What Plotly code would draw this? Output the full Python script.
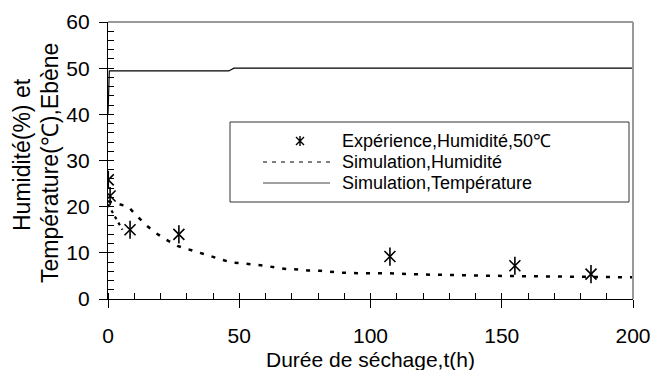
import plotly.graph_objects as go

# Experimental moisture content (%) of ebony dried at 50 °C
t_exp = [0.1, 0.8, 8.4, 27.0, 107.4, 155.0, 184.0]
h_exp = [25.8, 22.3, 15.0, 14.0, 9.2, 7.2, 5.4]

# Simulated moisture content (%)
t_sim = [0, 4, 7.7, 10.7, 14.5, 18.5, 22.3, 26.4, 30.5, 35, 39.5, 43.3, 47, 51.5,
         56, 60, 64, 68, 72.4, 76, 81, 85, 89, 95, 106, 120, 135, 150, 165, 180, 200]
h_sim = [21.2, 20.6, 20.0, 18.2, 16.0, 14.2, 12.8, 11.5, 10.8, 9.9, 9.2, 8.5, 7.9, 7.7,
         7.5, 7.2, 6.8, 6.5, 6.4, 6.2, 6.1, 5.9, 5.7, 5.6, 5.6, 5.3, 5.1, 5.0, 4.9, 4.8, 4.7]

# Early-stage simulated moisture branch
t_sim_b = [0, 2, 4, 5.5]
h_sim_b = [20.5, 18.5, 16.5, 15.0]

# Simulated drying temperature (°C)
t_temp = [0, 0.5, 46, 48, 200]
temp = [40.0, 49.4, 49.4, 50.0, 50.0]

# Legend entries
legend_labels = ["Expérience,Humidité,50℃", "Simulation,Humidité", "Simulation,Température"]

FONT = "Liberation Sans, Arial, sans-serif"

# plot area in pixels
L, R, T, B = 108, 633, 22, 299
W, H = R - L, B - T


def px(x):
    return (x - L) / W


def py(y):
    return (B - y) / H


fig = go.Figure()

fig.add_trace(go.Scatter(
    x=t_temp, y=temp, mode="lines", name=legend_labels[2], showlegend=False,
    line=dict(color="black", width=1.2),
))
fig.add_trace(go.Scatter(
    x=t_sim, y=h_sim, mode="lines", name=legend_labels[1], showlegend=False,
    line=dict(color="black", width=2.5, dash="4px,8px"),
))
fig.add_trace(go.Scatter(
    x=t_sim_b, y=h_sim_b, mode="lines", showlegend=False,
    line=dict(color="black", width=2.2, dash="3px,4px"),
))
fig.add_trace(go.Scatter(
    x=t_exp, y=h_exp, mode="markers", showlegend=False,
    marker=dict(symbol="line-ns-open", size=13, color="black",
                line=dict(color="black", width=1.6)),
))
fig.add_trace(go.Scatter(
    x=t_exp, y=h_exp, mode="markers", name=legend_labels[0], showlegend=False,
    marker=dict(symbol="x-thin-open", size=11, color="black",
                line=dict(color="black", width=1.6)),
))

# legend box drawn by hand: keys + labels
row_y = [141, 162, 183]
key_x0, key_x1, text_x = 263, 330, 341
shapes = [
    dict(type="line", xref="paper", yref="paper", x0=0, x1=1, y0=1, y1=1,
         line=dict(color="#9a9a9a", width=2)),
    dict(type="line", xref="paper", yref="paper", x0=1, x1=1, y0=0, y1=1,
         line=dict(color="#9a9a9a", width=2)),
    dict(type="rect", xref="paper", yref="paper",
         x0=px(230), x1=px(629), y0=py(202), y1=py(122),
         line=dict(color="#333333", width=1)),
    # asterisk key
    dict(type="path", xref="paper", yref="paper",
         xsizemode="pixel", ysizemode="pixel", xanchor=px(300), yanchor=py(row_y[0]),
         path="M -4,-4 L 4,4 M -4,4 L 4,-4 M 0,-5 L 0,5",
         line=dict(color="black", width=1.4)),
    # dotted key
    dict(type="line", xref="paper", yref="paper",
         x0=px(key_x0), x1=px(key_x1), y0=py(row_y[1]), y1=py(row_y[1]),
         line=dict(color="black", width=1, dash="4px,5px")),
    # solid key
    dict(type="line", xref="paper", yref="paper",
         x0=px(key_x0), x1=px(key_x1), y0=py(row_y[2]), y1=py(row_y[2]),
         line=dict(color="#808080", width=1.5)),
]

annotations = [
    dict(text=lab, xref="paper", yref="paper", x=px(text_x), y=py(yy),
         xanchor="left", yanchor="middle", showarrow=False,
         font=dict(size=18), borderpad=0)
    for lab, yy in zip(legend_labels, row_y)
]
annotations += [
    dict(text="Durée de séchage,t(h)", xref="paper", yref="paper",
         x=px(370), y=py(359), xanchor="center", yanchor="middle",
         showarrow=False, font=dict(size=21), borderpad=0),
    dict(text="Humidité(%) et", xref="paper", yref="paper",
         x=px(22), y=py(155), xanchor="center", yanchor="middle",
         textangle=-90, showarrow=False, font=dict(size=23), borderpad=0),
    dict(text="Température(℃),Ebène", xref="paper", yref="paper",
         x=px(50), y=py(163), xanchor="center", yanchor="middle",
         textangle=-90, showarrow=False, font=dict(size=23), borderpad=0),
]

fig.update_layout(
    width=653, height=370,
    margin=dict(l=L, r=653 - R, t=T, b=370 - B),
    paper_bgcolor="white", plot_bgcolor="white",
    font=dict(family=FONT, color="black", size=21),
    showlegend=False,
    xaxis=dict(
        range=[0, 200], tickvals=[0, 50, 100, 150, 200],
        showgrid=False, zeroline=False, automargin=False,
        showline=True, linecolor="black", linewidth=1.2,
        ticks="outside", ticklen=8, tickcolor="black",
        ticklabelstandoff=10,
        minor=dict(dtick=10, ticks="inside", ticklen=6, tickcolor="black"),
        tickfont=dict(size=21),
    ),
    yaxis=dict(
        range=[0, 60], tickvals=[0, 10, 20, 30, 40, 50, 60],
        showgrid=False, zeroline=False, automargin=False,
        showline=True, linecolor="black", linewidth=1.2,
        ticks="outside", ticklen=8, tickcolor="black",
        ticklabelstandoff=5,
        minor=dict(dtick=2, ticks="inside", ticklen=6, tickcolor="black"),
        tickfont=dict(size=21),
    ),
    shapes=shapes,
    annotations=annotations,
)

fig.write_html("out.html")
